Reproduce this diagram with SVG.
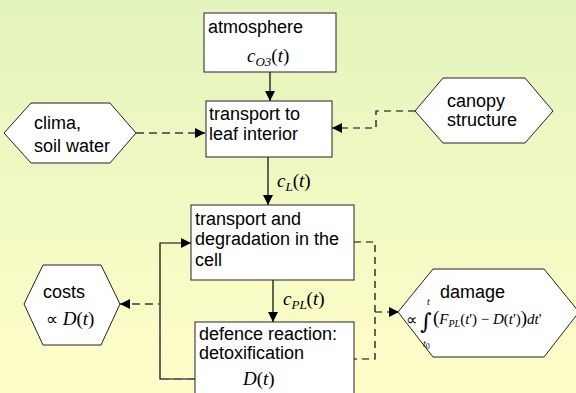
<svg xmlns="http://www.w3.org/2000/svg" width="576" height="393" viewBox="0 0 576 393">
  <defs>
    <linearGradient id="bg" x1="0" y1="0" x2="0" y2="1">
      <stop offset="0" stop-color="#e3f4bd"/>
      <stop offset="1" stop-color="#fffdc9"/>
    </linearGradient>
    <marker id="ah" viewBox="0 0 10 10" refX="10" refY="5" markerWidth="10" markerHeight="10" orient="auto" markerUnits="userSpaceOnUse">
      <path d="M0,0 L10,5 L0,10 z" fill="#000"/>
    </marker>
    <style>
      .box { fill: #fff; stroke: #222; stroke-width: 1; }
      .t { font-family: "Liberation Sans", Arial, sans-serif; font-size: 18px; fill: #000; }
      .m { font-family: "Liberation Serif", "Times New Roman", serif; font-style: italic; font-size: 19px; fill: #000; }
      .mn { font-family: "Liberation Serif", "Times New Roman", serif; font-style: normal; }
      .sub { font-size: 13px; }
      .solid { fill: none; stroke: #000; stroke-width: 1.2; }
      .dash { fill: none; stroke: #000; stroke-width: 1.2; stroke-dasharray: 7 5; }
      .dashg { fill: none; stroke: #666; stroke-width: 2; stroke-dasharray: 8 5; }
    </style>
  </defs>
  <rect x="0" y="0" width="576" height="393" fill="url(#bg)"/>

  <g id="connectors">
    <path class="solid" d="M270,72 V101" marker-end="url(#ah)"/>
    <path class="solid" d="M268,157 V205" marker-end="url(#ah)"/>
    <path class="solid" d="M273,280 V322" marker-end="url(#ah)"/>
    <path class="dashg" d="M136,133 H205" marker-end="url(#ah)"/>
    <path class="dash" d="M415,111 H376 V128 H332" marker-end="url(#ah)"/>
    <path class="dash" d="M354,242 H375 V359 H354"/>
    <path class="dash" d="M375,312 H399" marker-end="url(#ah)"/>
    <path class="solid" d="M195,379 H160 V243 H191" marker-end="url(#ah)"/>
    <path class="dashg" d="M195,379 H160 V304 H120" marker-end="url(#ah)"/>
  </g>

  <g id="atmosphere">
    <rect class="box" x="204" y="13" width="132" height="59"/>
    <text class="t" x="208" y="33">atmosphere</text>
    <text class="m" x="247" y="62">c<tspan class="sub" dy="4">O3</tspan><tspan class="mn" dy="-4">(</tspan>t<tspan class="mn">)</tspan></text>
  </g>

  <g id="transport-leaf">
    <rect class="box" x="206" y="101" width="126" height="56"/>
    <text class="t" x="209" y="120">transport to</text>
    <text class="t" x="209" y="140">leaf interior</text>
  </g>

  <g id="clima">
    <polygon class="box" points="4,133 31,103 110,103 136,133 110,163 31,163"/>
    <text class="t" x="34" y="129">clima,</text>
    <text class="t" x="34" y="152">soil water</text>
  </g>

  <g id="canopy">
    <polygon class="box" points="415,111 443,78 525,78 553,111 525,143 443,143"/>
    <text class="t" x="447" y="107">canopy</text>
    <text class="t" x="447" y="126">structure</text>
  </g>

  <g id="label-cL">
    <text class="m" x="277" y="187">c<tspan class="sub" dy="4">L</tspan><tspan class="mn" dy="-4">(</tspan>t<tspan class="mn">)</tspan></text>
  </g>

  <g id="cell">
    <rect class="box" x="191" y="205" width="163" height="75"/>
    <text class="t" x="195" y="225">transport and</text>
    <text class="t" x="195" y="245">degradation in the</text>
    <text class="t" x="195" y="266">cell</text>
  </g>

  <g id="label-cPL">
    <text class="m" x="283" y="305">c<tspan class="sub" dy="4">PL</tspan><tspan class="mn" dy="-4">(</tspan>t<tspan class="mn">)</tspan></text>
  </g>

  <g id="defence">
    <rect class="box" x="195" y="322" width="159" height="80"/>
    <text class="t" x="199" y="340">defence reaction:</text>
    <text class="t" x="199" y="359">detoxification</text>
    <text class="m" x="243" y="385">D<tspan class="mn">(</tspan>t<tspan class="mn">)</tspan></text>
  </g>

  <g id="costs">
    <polygon class="box" points="24,304 43,265 101,265 120,304 101,345 43,345"/>
    <text class="t" x="43" y="298">costs</text>
    <text class="m" x="46" y="325"><tspan class="mn" style="font-size:17px">∝</tspan> D<tspan class="mn">(</tspan>t<tspan class="mn">)</tspan></text>
  </g>

  <g id="damage">
    <polygon class="box" points="398,312 433,269 544,269 579,312 544,357 433,357"/>
    <text class="t" x="440" y="298">damage</text>
    <text x="406" y="325" style="font-family:'Liberation Serif',serif;font-size:16px">∝</text>
    <text x="420" y="329" style="font-family:'DejaVu Serif',serif;font-size:22px">∫</text>
    <text x="427" y="305" style="font-family:'Liberation Serif',serif;font-style:italic;font-size:10px">t</text>
    <text x="423" y="347" style="font-family:'Liberation Serif',serif;font-style:italic;font-size:10px">t<tspan dy="2" style="font-style:normal;font-size:8px">0</tspan></text>
    <text x="433" y="324" style="font-family:'Liberation Serif',serif;font-style:italic;font-size:15px"><tspan class="mn" style="font-size:19px">(</tspan>F<tspan style="font-size:10px" dy="3">PL</tspan><tspan class="mn" dy="-3">(</tspan>t<tspan class="mn">')</tspan><tspan class="mn"> − </tspan>D<tspan class="mn">(</tspan>t<tspan class="mn">')</tspan><tspan class="mn" style="font-size:19px">)</tspan>dt<tspan class="mn">'</tspan></text>
  </g>
</svg>
